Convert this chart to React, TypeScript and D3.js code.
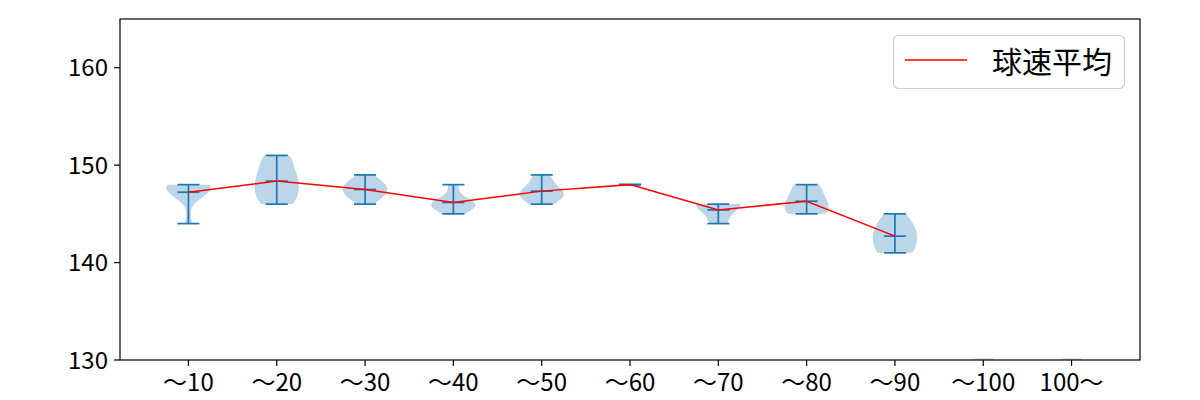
import React from "react";
import * as d3 from "d3";

const categories = ["～10", "～20", "～30", "～40", "～50", "～60", "～70", "～80", "～90", "～100", "100～"];
const samples: number[][] = [
  [144, 147, 147, 147, 148, 148, 148, 148, 148],
  [146, 146, 147, 147, 148, 148, 149, 149, 150, 151, 151],
  [146, 147, 147, 147, 148, 148, 148, 149],
  [145, 146, 146, 146, 146, 148],
  [146, 147, 147, 147, 148, 149],
  [148],
  [144, 145, 146, 146, 146],
  [145, 145, 145, 146, 146, 146, 147, 147, 148, 148],
  [141, 141, 142, 143, 143, 144, 145],
  [],
  [],
];
const yTicks = [130, 140, 150, 160];
const legendLabel = "球速平均";

const W = 1200, H = 400;
const M = { left: 120, top: 19, right: 1140, bottom: 360 };

function kde(data: number[], pts: number[]) {
  const n = data.length;
  const mean = d3.mean(data)!;
  const v = d3.sum(data, (d) => (d - mean) ** 2) / (n - 1);
  const f = Math.pow(n, -1 / 5);
  const bw2 = v * f * f;
  return pts.map((p) => d3.sum(data, (d) => Math.exp(-((p - d) ** 2) / (2 * bw2))));
}

export default function App() {
  const x = d3.scaleLinear().domain([0.225, 11.775]).range([M.left, M.right]);
  const y = d3.scaleLinear().domain([130, 165]).range([M.bottom, M.top]);
  const unit = x(1) - x(0);
  const blue = "#1f77b4";
  const means: [number, number][] = [];
  const violins = samples.map((s, i) => {
    const pos = i + 1;
    const cx = x(pos);
    if (s.length === 0) {
      return (
        <rect key={i} x={cx - 0.12 * unit} width={0.24 * unit} y={M.bottom - 1.5} height={1.5} fill={blue} fillOpacity={0.3} />
      );
    }
    const mn = d3.min(s)!, mx = d3.max(s)!, mean = d3.mean(s)!;
    means.push([cx, y(mean)]);
    let body = null;
    if (s.length > 1 && mx > mn) {
      const pts = d3.range(100).map((k) => mn + ((mx - mn) * k) / 99);
      const dens = kde(s, pts);
      const dm = d3.max(dens)!;
      const area = d3
        .area<number>()
        .y((_, k) => y(pts[k]))
        .x0((d) => cx - (d / dm) * 0.25 * unit)
        .x1((d) => cx + (d / dm) * 0.25 * unit);
      body = <path d={area(dens) || ""} fill={blue} fillOpacity={0.3} />;
    }
    const cap = 0.125 * unit;
    return (
      <g key={i}>
        {body}
        <line x1={cx} x2={cx} y1={y(mn)} y2={y(mx)} stroke={blue} strokeWidth={1.7} />
        {[mn, mx, mean].map((v, j) => (
          <line key={j} x1={cx - cap} x2={cx + cap} y1={y(v)} y2={y(v)} stroke={blue} strokeWidth={1.7} />
        ))}
      </g>
    );
  });
  const line = d3.line()(means) || "";
  const font = "'Noto Sans CJK JP', 'DejaVu Sans', sans-serif";
  return (
    <svg width={W} height={H} style={{ position: "absolute", left: 0, top: 0 }} fontFamily={font}>
      <rect width={W} height={H} fill="white" />
      <defs>
        <clipPath id="clip">
          <rect x={M.left} y={M.top} width={M.right - M.left} height={M.bottom - M.top} />
        </clipPath>
      </defs>
      <g clipPath="url(#clip)">
        {violins}
        <path d={line} fill="none" stroke="#ff0000" strokeWidth={1.5} />
      </g>
      <rect x={M.left} y={M.top} width={M.right - M.left} height={M.bottom - M.top} fill="none" stroke="black" strokeWidth={1.2} />
      {yTicks.map((t) => (
        <g key={t}>
          <line x1={M.left - 6} x2={M.left} y1={y(t)} y2={y(t)} stroke="black" strokeWidth={1.2} />
          <text x={M.left - 12} y={y(t)} dy="0.36em" textAnchor="end" fontSize={24}>{t}</text>
        </g>
      ))}
      {categories.map((c, i) => (
        <g key={c}>
          <line x1={x(i + 1)} x2={x(i + 1)} y1={M.bottom} y2={M.bottom + 6} stroke="black" strokeWidth={1.2} />
          <text x={x(i + 1)} y={M.bottom + 31} textAnchor="middle" fontSize={24}>{c}</text>
        </g>
      ))}
      <rect x={893.5} y={35.5} width={231} height={53} rx={5} fill="white" stroke="#d0d0d0" strokeWidth={1.2} />
      <line x1={905} x2={967} y1={60} y2={60} stroke="#ff0000" strokeWidth={1.5} />
      <text x={992} y={62} dy="0.35em" fontSize={30}>{legendLabel}</text>
    </svg>
  );
}
